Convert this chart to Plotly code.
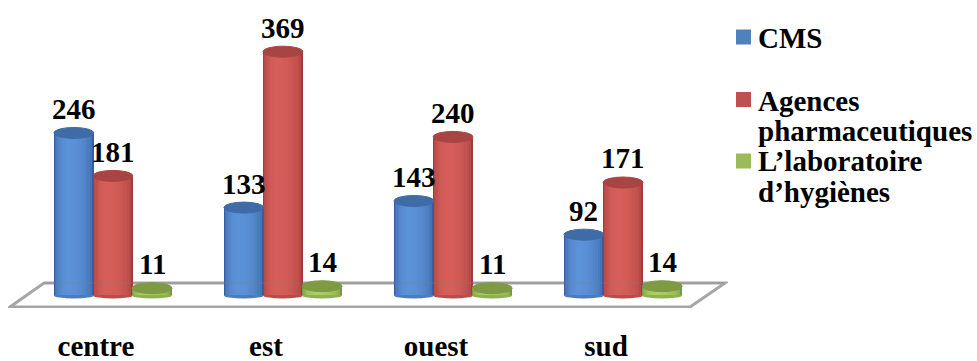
import plotly.graph_objects as go

# ---- data -------------------------------------------------------------
categories = ["centre", "est", "ouest", "sud"]
series_names = ["CMS", "Agences pharmaceutiques", "L’laboratoire d’hygiènes"]
legend_lines = [["CMS"], ["Agences", "pharmaceutiques"], ["L’laboratoire", "d’hygiènes"]]
cms = [246, 133, 143, 92]
agences = [181, 369, 240, 171]
labo = [11, 14, 11, 14]
values = [cms, agences, labo]

# ---- styling ------------------------------------------------------------
FONT = "Liberation Serif"
FS = 29
edge_cols = [(55, 95, 160), (160, 60, 58), (122, 152, 62)]
high_cols = [(92, 146, 216), (214, 94, 90), (172, 206, 102)]
cap_cols = ["#3f6ba6", "#a84442", "#7e9b43"]
base_cols = ["#4a7cbf", "#bb4c49", "#8fb04f"]
legend_cols = ["#4f81bd", "#c0504d", "#9bbb59"]

W, H = 977, 361
L, R, T, B = 8, 249, 18, 53
XR = [-0.617, 3.617]
YR = [-19, 420]
sx = (W - L - R) / (XR[1] - XR[0])   # px per category unit
sy = (H - T - B) / (YR[1] - YR[0])   # px per value unit

def xd(px):
    return XR[0] + (px - L) / sx

def yd(py):
    return YR[1] - (py - T) / sy

def px_paper(px):
    return (px - L) / (W - L - R)

def py_paper(py):
    return 1 - (py - T) / (H - T - B)

offsets = [-0.23, 0.0, 0.23]
bar_w = 0.235
cap_half = 5.5 / sy
base_half = 3 / sy
N = 12

def lerp(c1, c2, t):
    return "rgb(%d,%d,%d)" % tuple(round(a + (b - a) * t) for a, b in zip(c1, c2))

fig = go.Figure()

# cylinder bodies: nested bars shaded from the rim toward a left-of-centre highlight
for s, vals in enumerate(values):
    for k in range(N):
        r = 1 - k / N
        shade = (max(0.0, 1 - r * r)) ** 0.5
        shift = -0.14 * bar_w * (k / N)
        fig.add_trace(go.Bar(
            x=[i + offsets[s] + shift for i in range(len(categories))],
            y=vals,
            width=bar_w * r,
            marker=dict(color=lerp(edge_cols[s], high_cols[s], shade), line=dict(width=0)),
            name=series_names[s],
            showlegend=False,
            hoverinfo="skip",
        ))

shapes = []
# floor of the plot
fl = [(10, 307), (690, 307), (725, 283), (44, 283)]
path = "M " + " L ".join(f"{xd(a):.4f},{yd(b):.3f}" for a, b in fl) + " Z"
shapes.append(dict(type="path", path=path, xref="x", yref="y", layer="below",
                   line=dict(color="#a6a6a6", width=3), fillcolor="rgba(0,0,0,0)"))
# back edge of the floor faintly seen through the cylinders
shapes.append(dict(type="line", xref="x", yref="y", layer="above",
                   x0=xd(44), x1=xd(725), y0=yd(283), y1=yd(283),
                   line=dict(color="#808080", width=2), opacity=0.2))

annotations = []
for s, vals in enumerate(values):
    for i, v in enumerate(vals):
        xc = i + offsets[s]
        # rounded foot of the cylinder
        shapes.append(dict(type="circle", xref="x", yref="y", layer="below",
                           x0=xc - bar_w / 2, x1=xc + bar_w / 2,
                           y0=-base_half, y1=base_half,
                           fillcolor=base_cols[s], line=dict(width=0)))
        # top cap
        shapes.append(dict(type="circle", xref="x", yref="y", layer="above",
                           x0=xc - bar_w / 2, x1=xc + bar_w / 2,
                           y0=v - cap_half, y1=v + cap_half,
                           fillcolor=cap_cols[s], line=dict(color=cap_cols[s], width=1)))
        annotations.append(dict(x=xc, y=v, xref="x", yref="y", text=str(v),
                                showarrow=False, yanchor="bottom", yshift=6,
                                font=dict(family=FONT, size=FS, color="black", weight="bold")))

# legend keys and labels
key_centres = [37, 99.5, 161]
line_baselines = [[48], [110, 140], [171, 201]]
for s in range(3):
    yc = key_centres[s]
    shapes.append(dict(type="rect", xref="paper", yref="paper",
                       x0=px_paper(736), x1=px_paper(751),
                       y0=py_paper(yc + 7.5), y1=py_paper(yc - 7.5),
                       fillcolor=legend_cols[s], line=dict(width=0)))
    for txt, bl in zip(legend_lines[s], line_baselines[s]):
        annotations.append(dict(x=px_paper(756), y=py_paper(bl - 9.5), xref="paper", yref="paper",
                                text=txt, showarrow=False, xanchor="left", yanchor="middle",
                                font=dict(family=FONT, size=FS, color="black", weight="bold")))

fig.update_layout(
    width=W, height=H,
    margin=dict(l=L, r=R, t=T, b=B, autoexpand=False),
    barmode="overlay",
    bargap=0,
    plot_bgcolor="white",
    paper_bgcolor="white",
    showlegend=False,
    shapes=shapes,
    annotations=annotations,
    xaxis=dict(range=XR, tickvals=list(range(len(categories))), ticktext=categories,
               showgrid=False, zeroline=False, showline=False, ticks="", automargin=False,
               ticklabelshift=-17, ticklabelstandoff=18,
               tickfont=dict(family=FONT, size=FS, color="black", weight="bold")),
    yaxis=dict(range=YR, visible=False, showgrid=False, zeroline=False, automargin=False),
)

fig.write_html("out.html")
